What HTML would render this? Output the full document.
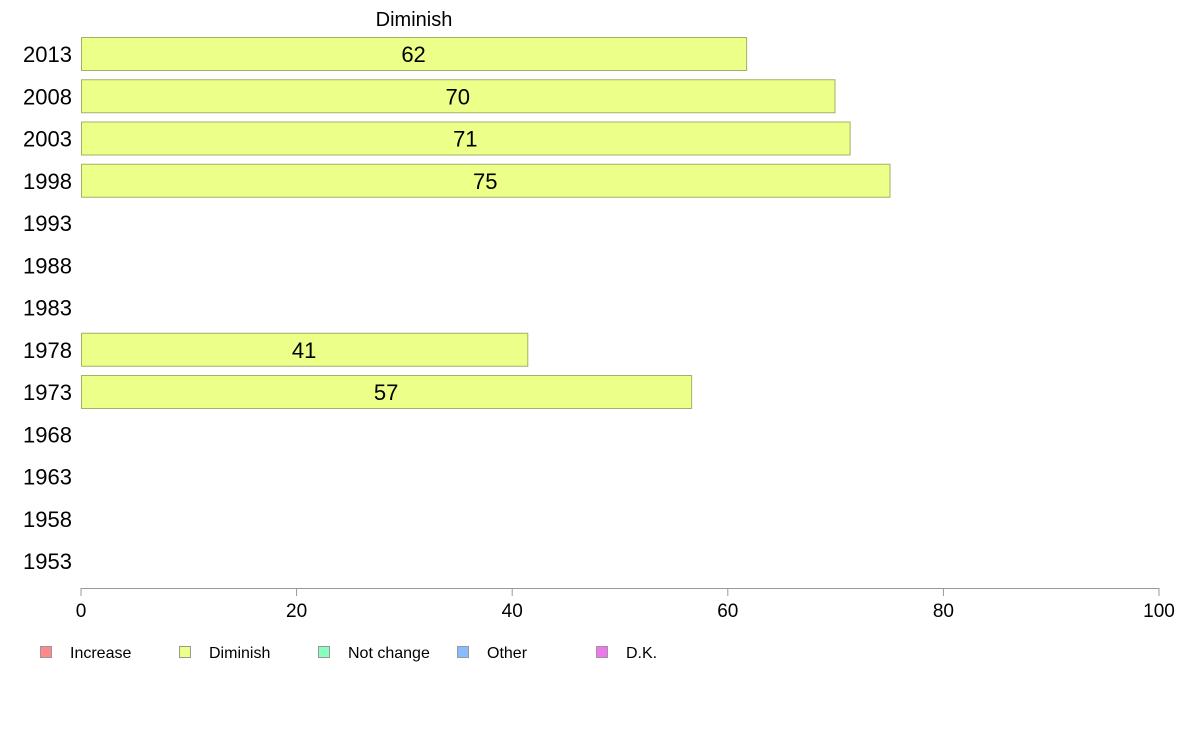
<!DOCTYPE html>
<html><head><meta charset="utf-8"><style>
body{margin:0;background:#fff;}
svg{display:block;font-family:"Liberation Sans",sans-serif;}
</style></head><body>
<svg id="chart" width="1188" height="736">
<text x="414" y="26" font-size="20" text-anchor="middle">Diminish</text>
<g id="bars"></g><g id="axis"></g><g id="legend"></g>
</svg>
<script>
const years=["2013","2008","2003","1998","1993","1988","1983","1978","1973","1968","1963","1958","1953"];
const values=[61.7,69.9,71.3,75,null,null,null,41.4,56.6,null,null,null,null];
const labels=["62","70","71","75","","","","41","57","","","",""];
const ticks=[0,20,40,60,80,100];
const legendNames=["Increase","Diminish","Not change","Other","D.K."];
const legendColors=["#ff8888","#ecff88","#88ffbb","#88bbff","#ee77ee"];
const NS="http://www.w3.org/2000/svg";
const x=v=>81+v*10.78;
const y=i=>54+i*42.25;
function mk(tag,attrs,parent,text){const e=document.createElementNS(NS,tag);for(const k in attrs)e.setAttribute(k,attrs[k]);if(text!==undefined)e.textContent=text;parent.appendChild(e);return e;}
const bars=document.getElementById('bars'),axis=document.getElementById('axis'),legend=document.getElementById('legend');
years.forEach((yr,i)=>{
  const t=mk('text',{x:72,y:y(i)+8,'font-size':22,'text-anchor':'end'},axis,yr);
  
  
  if(values[i]!=null){
    const r=mk('rect',{x:x(0)+0.5,y:y(i)-16.5,width:x(values[i])-x(0),height:33,fill:'#ecff88',stroke:'#a3b06a','stroke-width':1},bars);
    
    
    const l=mk('text',{x:(x(0)+x(values[i]))/2,y:y(i)+8,'font-size':22,'text-anchor':'middle'},bars,labels[i]);
    
    
  }
});
const al=mk('line',{x1:x(0),x2:x(100),y1:588.5,y2:588.5,stroke:'#999'},axis);


ticks.forEach(v=>{
  const tl=mk('line',{x1:x(v),x2:x(v),y1:588,y2:596,stroke:'#999'},axis);
  
  
  const tt=mk('text',{x:x(v),y:617,'font-size':19,'text-anchor':'middle'},axis,String(v));
  
  
});
legendNames.forEach((n,i)=>{
  const lx=40+i*139;
  const g=mk('g',{},legend);
  
  
  mk('rect',{x:lx+0.5,y:646.5,width:11,height:11,fill:legendColors[i],stroke:'#999'},g);
  mk('text',{x:lx+30,y:658,'font-size':16},g,n);
});
</script>
</body></html>
